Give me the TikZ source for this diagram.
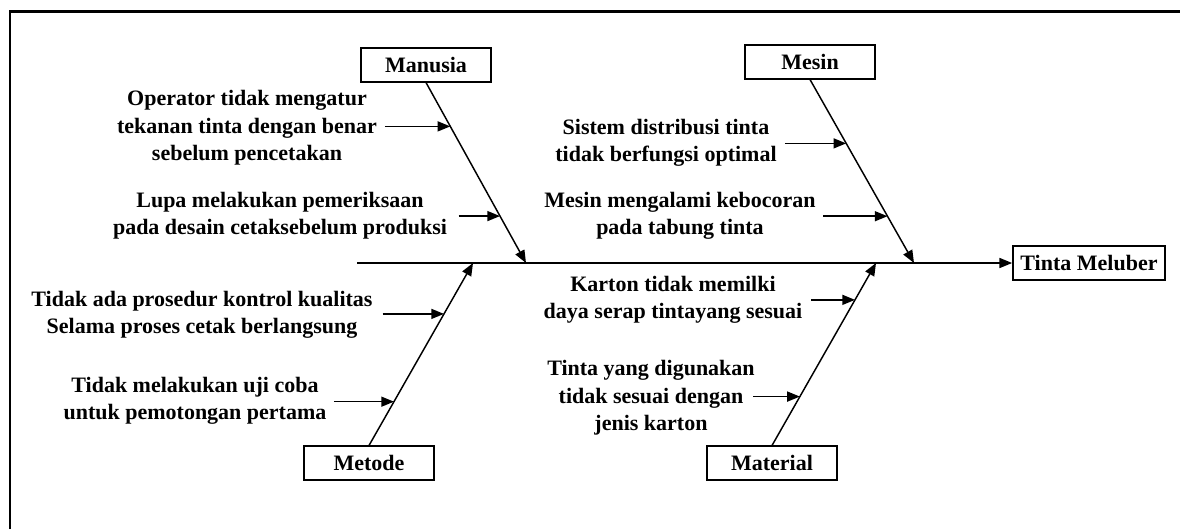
\documentclass[tikz,border=0pt]{standalone}
\usepackage{fontspec}
\setmainfont{Liberation Serif}
\usetikzlibrary{arrows.meta}
\begin{document}
\begin{tikzpicture}[x=0.75pt,y=-0.75pt,
  box/.style={draw,line width=1.3pt,minimum width=98pt,minimum height=25pt,inner sep=0pt,font=\fontsize{16.5}{18}\selectfont\bfseries},
  lbl/.style={align=center,font=\fontsize{16.5}{20.5}\selectfont\bfseries,inner sep=0pt},
  bone/.style={line width=1.1pt,-{Triangle[length=9.5pt,width=7.5pt]}},
  arr/.style={line width=1.1pt,-{Triangle[length=9.5pt,width=7.5pt]}}]
\useasboundingbox (0,0) rectangle (1180,529);
\draw[line width=2pt] (10,529) -- (10,11.5) -- (1180,11.5);
% boxes
\node[box] (man) at (426,65) {Manusia};
\node[box] (mes) at (810,62) {Mesin};
\node[box] (met) at (369,463) {Metode};
\node[box] (mat) at (772,463) {Material};
\node[box,minimum width=114pt] (eff) at (1089,263) {Tinta Meluber};
% spine
\coordinate (sp) at (357,263);
\draw[bone] (sp) -- (eff.west);
% bone tips
\coordinate (mantip) at (526,263);
\coordinate (mestip) at (914,263);
\coordinate (mettip) at (473,263);
\coordinate (mattip) at (876,263);
\draw[bone] (man.south) -- (mantip);
\draw[bone] (mes.south) -- (mestip);
\draw[bone] (met.north) -- (mettip);
\draw[bone] (mat.north) -- (mattip);
% points on bones
\path (man.south) -- (mantip) coordinate[pos=0.243] (m1) coordinate[pos=0.740] (m2);
\path (mes.south) -- (mestip) coordinate[pos=0.348] (e1) coordinate[pos=0.745] (e2);
\path (met.north) -- (mettip) coordinate[pos=0.721] (t1) coordinate[pos=0.240] (t2);
\path (mat.north) -- (mattip) coordinate[pos=0.798] (a1) coordinate[pos=0.268] (a2);
% small arrows
\draw[arr] ([xshift=-49pt]m1) -- (m1);
\draw[arr] ([xshift=-31pt]m2) -- (m2);
\draw[arr] ([xshift=-46pt]e1) -- (e1);
\draw[arr] ([xshift=-48pt]e2) -- (e2);
\draw[arr] ([xshift=-46pt]t1) -- (t1);
\draw[arr] ([xshift=-45pt]t2) -- (t2);
\draw[arr] ([xshift=-33pt]a1) -- (a1);
\draw[arr] ([xshift=-35pt]a2) -- (a2);
% labels
\node[lbl] (l1) at (247,128) {Operator tidak mengatur\\tekanan tinta dengan benar\\sebelum pencetakan};
\node[lbl] (l2) at (280,216) {Lupa melakukan pemeriksaan\\pada desain cetaksebelum produksi};
\node[lbl] (l3) at (666,143) {Sistem distribusi tinta\\tidak berfungsi optimal};
\node[lbl] (l4) at (680,216) {Mesin mengalami kebocoran\\pada tabung tinta};
\node[lbl] (l5) at (673,300) {Karton tidak memilki\\daya serap tintayang sesuai};
\node[lbl] (l6) at (651,398) {Tinta yang digunakan\\tidak sesuai dengan\\jenis karton};
\node[lbl] (l7) at (202,315) {Tidak ada prosedur kontrol kualitas\\Selama proses cetak berlangsung};
\node[lbl] (l8) at (195,401) {Tidak melakukan uji coba\\untuk pemotongan pertama};
\end{tikzpicture}
\end{document}
